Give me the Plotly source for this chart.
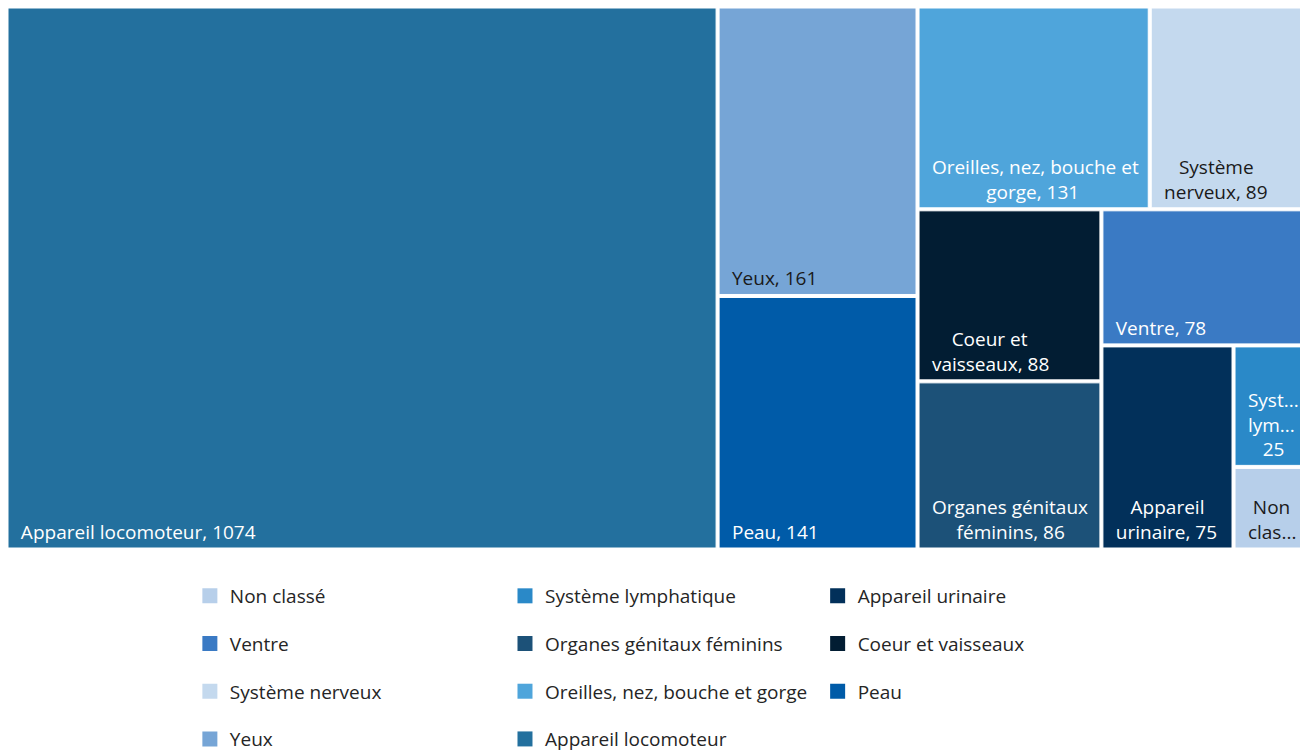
import plotly.graph_objects as go

# Données (nombre de cas par catégorie)
labels = [
    "Appareil locomoteur", "Yeux", "Peau", "Oreilles, nez, bouche et gorge",
    "Système nerveux", "Coeur et vaisseaux", "Organes génitaux féminins",
    "Ventre", "Appareil urinaire", "Système lymphatique", "Non classé",
]
values = [1074, 161, 141, 131, 89, 88, 86, 78, 75, 25, 17]

# texte affiché dans les tuiles (lignes coupées comme dans l'original)
S = "\u00a0"
tile_text = [
    S * 2 + "Appareil locomoteur, 1074",
    S * 2 + "Yeux, 161",
    S * 2 + "Peau, 141",
    S * 2 + "Oreilles, nez, bouche et<br>" + S * 13 + "gorge, 131",
    S * 5 + "Système<br>" + S * 2 + "nerveux, 89",
    S * 6 + "Coeur et<br>" + S * 2 + "vaisseaux, 88",
    S * 2 + "Organes génitaux<br>" + S * 7 + "féminins, 86",
    S * 2 + "Ventre, 78",
    S * 5 + "Appareil<br>" + S * 2 + "urinaire, 75",
    S * 2 + "Syst...<br>" + S * 2 + "lym...<br>" + S * 5 + "25",
    S * 3 + "Non<br>" + S * 2 + "clas...",
]
colors = [
    "#23709E", "#76A5D6", "#005BA8", "#4FA5DB", "#C4D9EE", "#021D33",
    "#1C5178", "#3A7AC4", "#02305A", "#2A89C8", "#B7CFEA",
]
text_colors = [
    "white", "#1a1a1a", "white", "white", "#1a1a1a", "white",
    "white", "white", "white", "white", "#1a1a1a",
]

# Légende : trois colonnes
legend_cols = [
    ["Non classé", "Ventre", "Système nerveux", "Yeux"],
    ["Système lymphatique", "Organes génitaux féminins",
     "Oreilles, nez, bouche et gorge", "Appareil locomoteur"],
    ["Appareil urinaire", "Coeur et vaisseaux", "Peau"],
]

FONT = "Open Sans"

fig = go.Figure()

fig.add_trace(
    go.Treemap(
        labels=labels,
        parents=[""] * len(labels),
        values=values,
        text=tile_text,
        texttemplate="%{text}",
        textposition="bottom left",
        textfont=dict(family=FONT, size=19, color=text_colors),
        marker=dict(
            colors=colors,
            line=dict(color="white", width=1),
            pad=dict(t=0, l=0, r=0, b=0),
        ),
        pathbar=dict(visible=False),
        hoverinfo="skip",
        sort=True,
        tiling=dict(packing="squarify"),
        domain=dict(x=[0, 1], y=[0, 1]),
    )
)

legend_names = ["legend", "legend2", "legend3"]
for lg, col in zip(legend_names, legend_cols):
    for name in col:
        fig.add_trace(
            go.Scatter(
                x=[None], y=[None],
                mode="markers",
                marker=dict(symbol="square", size=15, color=colors[labels.index(name)]),
                name=name,
                legend=lg,
                legendgroup=name,
                hoverinfo="skip",
            )
        )

leg_common = dict(
    orientation="v",
    xref="container",
    yref="container",
    yanchor="top",
    y=0.2373,
    xanchor="left",
    font=dict(family=FONT, size=19, color="#252525"),
    tracegroupgap=20,
    bgcolor="rgba(0,0,0,0)",
)

# la page ajoute une marge de 8 px : la figure fait donc 1300 x 746
fig.update_layout(
    width=1300,
    height=746,
    margin=dict(l=0, r=2, t=0, b=206, autoexpand=False),
    paper_bgcolor="white",
    plot_bgcolor="white",
    xaxis=dict(visible=False),
    yaxis=dict(visible=False),
    legend=dict(x=0.1399, **leg_common),
    legend2=dict(x=0.3823, **leg_common),
    legend3=dict(x=0.6228, **leg_common),
    showlegend=True,
)

fig.write_html("out.html")
